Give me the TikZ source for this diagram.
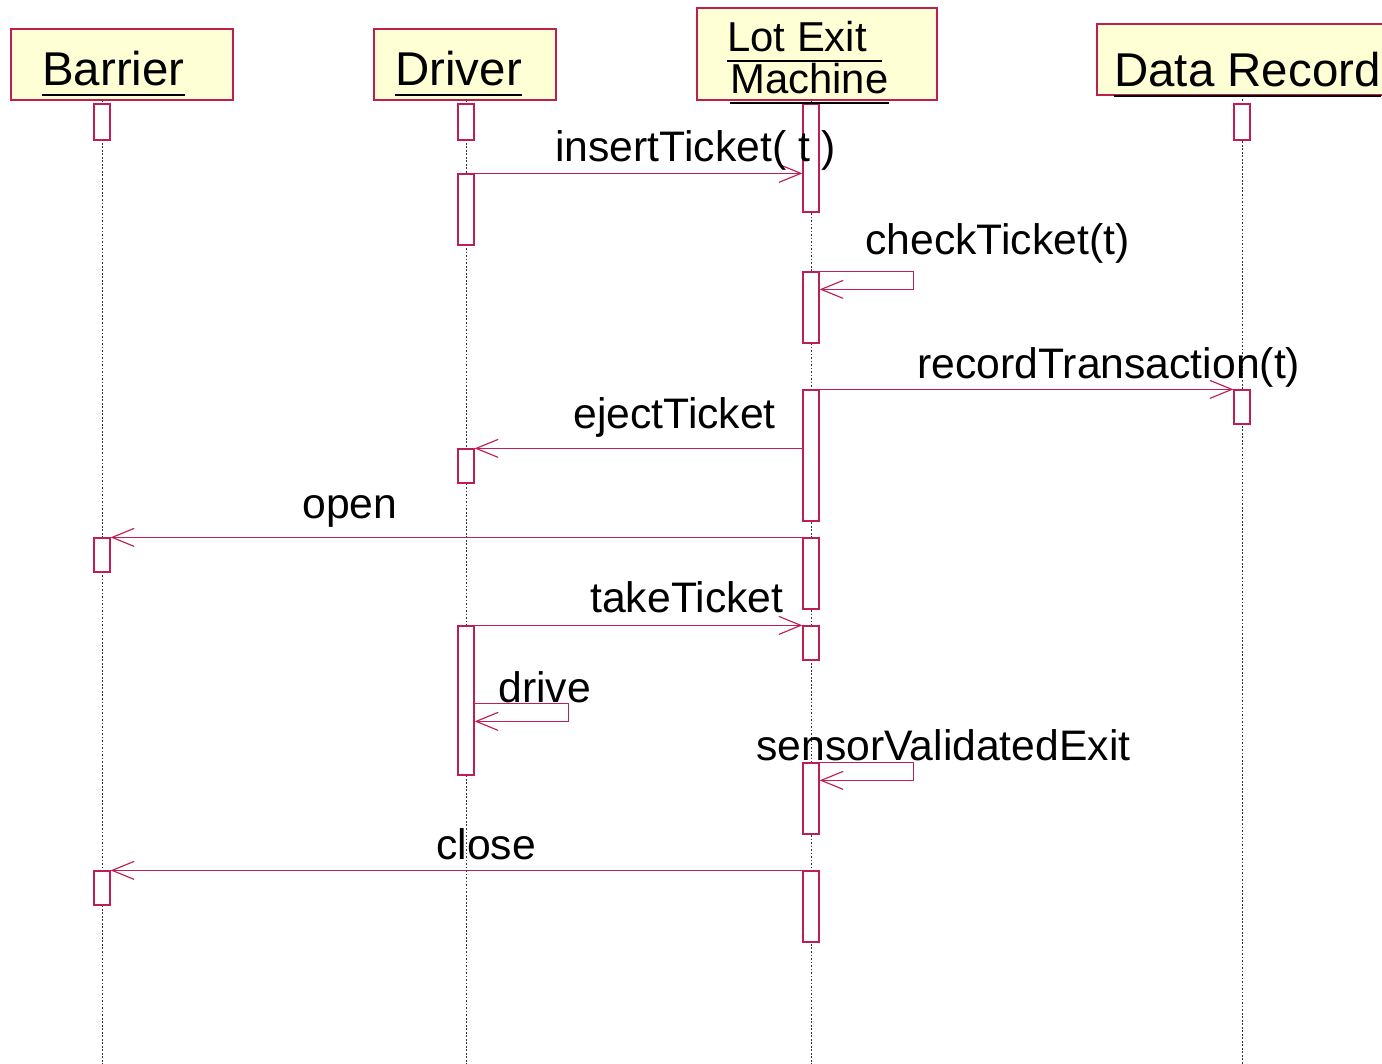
\documentclass[tikz,border=0pt]{standalone}
\usepackage{fontspec}
\setmainfont{Liberation Sans}
\usetikzlibrary{arrows.meta,fit}
\definecolor{seqred}{RGB}{190,30,80}
\definecolor{seqyellow}{RGB}{255,255,213}
\tikzstyle{object} = [draw=seqred,fill=seqyellow,line width=0.7pt,inner sep=0pt]
\tikzstyle{activation} = [draw=seqred,fill=white,line width=0.7pt,inner sep=0pt]
\tikzstyle{lifeline} = [black!80,line width=0.5pt,dash pattern=on 1pt off 1pt]
\tikzstyle{message} = [seqred,line width=0.65pt,-{Straight Barb[length=0.44cm,width=0.36cm]}]
\tikzstyle{objname} = [anchor=base west,inner sep=0pt,font=\fontsize{27}{30}\selectfont]
\tikzstyle{msgtext} = [anchor=base west,inner sep=0pt,font=\fontsize{24.3}{28}\selectfont]
\tikzstyle{uline} = [line width=1.7pt]

\begin{document}
\begin{tikzpicture}[x=0.02cm,y=-0.02cm]
\useasboundingbox (0,0) rectangle (1382,1064);
\clip (0,0) rectangle (1382,1064);

% object boxes
\node (barrier) [object,fit={(11,29) (233,100)}] {};
\node (driver) [object,fit={(374,29) (556,100)}] {};
\node (machine) [object,fit={(697,8) (937,100)}] {};
\node (record) [object,fit={(1097,24) (1400,95)}] {};

% lifelines
\coordinate (barrierEnd) at (102,1064);
\coordinate (driverEnd) at (466,1064);
\coordinate (machineEnd) at (811,1064);
\coordinate (recordEnd) at (1242,1064);
\draw [lifeline] (barrier.south -| barrierEnd) -- (barrierEnd);
\draw [lifeline] (driver.south -| driverEnd) -- (driverEnd);
\draw [lifeline] (machine.south -| machineEnd) -- (machineEnd);
\draw [lifeline] (record.south -| recordEnd) -- (recordEnd);

% activations
\node (b1) [activation,fit={(94,104) (110,140)}] {};
\node (b2) [activation,fit={(94,538) (110,572)}] {};
\node (b3) [activation,fit={(94,871) (110,905)}] {};
\node (d1) [activation,fit={(458,104) (474,140)}] {};
\node (d2) [activation,fit={(458,174) (474,245)}] {};
\node (d3) [activation,fit={(458,449) (474,483)}] {};
\node (d4) [activation,fit={(458,626) (474,775)}] {};
\node (m1) [activation,fit={(803,104) (819,212)}] {};
\node (m2) [activation,fit={(803,272) (819,343)}] {};
\node (m3) [activation,fit={(803,390) (819,521)}] {};
\node (m4) [activation,fit={(803,538) (819,609)}] {};
\node (m5) [activation,fit={(803,626) (819,660)}] {};
\node (m6) [activation,fit={(803,763) (819,834)}] {};
\node (m7) [activation,fit={(803,871) (819,942)}] {};
\node (r1) [activation,fit={(1234,104) (1250,140)}] {};
\node (r2) [activation,fit={(1234,390) (1250,424)}] {};

% object names
\node (tBarrier) [objname] at (42,86) {Barrier};
\node (tDriver) [objname] at (395,86) {Driver};
\node (tLot) [objname,font=\fontsize{23.8}{26}\selectfont] at (727,52) {Lot Exit\kern0.3cm};
\node (tMachine) [objname,font=\fontsize{23.8}{26}\selectfont] at (730,94) {Machine};
\node (tRecord) [objname] at (1114,87) {Data Record};
\foreach \t in {tBarrier,tDriver,tLot,tMachine,tRecord}
  \draw [uline] ([yshift=-0.18cm]\t.base west) -- ([yshift=-0.18cm]\t.base east);

% messages
\draw [message] (d2.north east) -- (d2.north east -| m1.west);
\node (l1) [msgtext] at (555,162) {insertTicket( t )};

\draw [message] (m2.north east) -- ++(94,0) -- ++(0,18) -- ++(-94,0);
\node (l2) [msgtext] at (865,255) {checkTicket(t)};

\draw [message] (m3.north east) -- (m3.north east -| r2.west);
\node (l3) [msgtext] at (917,378) {recordTransaction(t)};

\draw [message] (m3.west |- d3.north) -- (d3.north east);
\node (l4) [msgtext] at (573,428) {ejectTicket};

\draw [message] (m4.north west) -- (m4.north west -| b2.east);
\node (l5) [msgtext] at (302,518) {open};

\draw [message] (d4.north east) -- (d4.north east -| m5.west);
\node (l6) [msgtext] at (590,612) {takeTicket};

\draw [message] ([yshift=-1.56cm]d4.north east) -- ++(94,0) -- ++(0,18) -- ++(-94,0);
\node (l7) [msgtext] at (498,702) {drive};

\draw [message] (m6.north east) -- ++(94,0) -- ++(0,18) -- ++(-94,0);
\node (l8) [msgtext] at (756,760) {sensorValidatedExit};

\draw [message] (m7.north west) -- (m7.north west -| b3.east);
\node (l9) [msgtext] at (436,859) {close};

\end{tikzpicture}
\end{document}
